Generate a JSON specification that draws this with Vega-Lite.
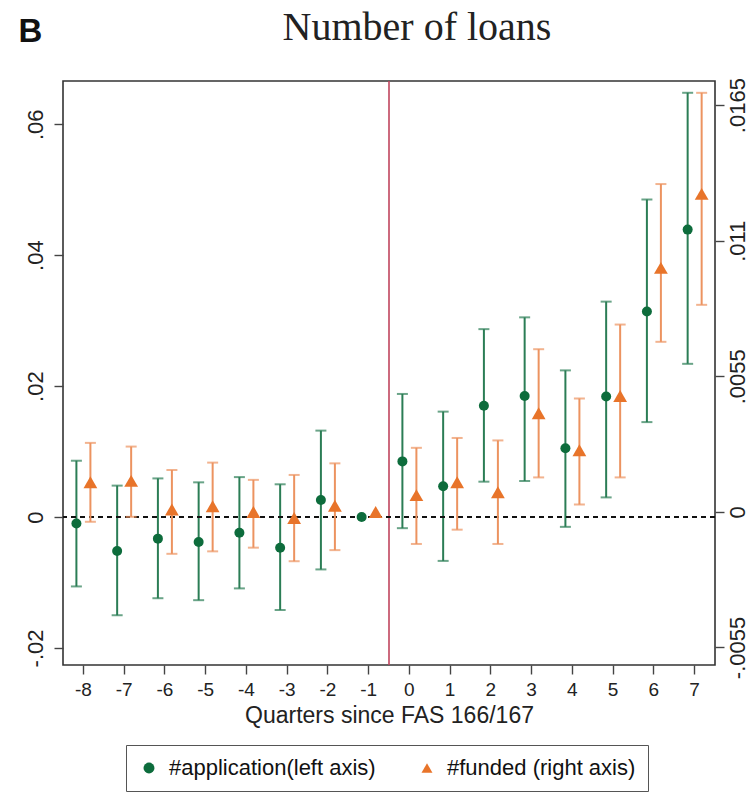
{
  "$schema": "https://vega.github.io/schema/vega-lite/v6.json",
  "width": 652,
  "height": 584,
  "autosize": {"type": "none"},
  "padding": {"left": 63, "top": 81, "right": 39, "bottom": 133},
  "background": "white",
  "config": {
    "font": "Liberation Sans",
    "view": {"stroke": "#333333", "strokeWidth": 1.6},
    "axis": {"grid": false, "domain": false, "tickColor": "#444444", "tickWidth": 1.4, "tickSize": 9, "labelColor": "#222222", "labelFontSize": 22, "labelFont": "Liberation Sans"}
  },
  "title": {
    "text": "Number of loans",
    "font": "Liberation Serif",
    "fontSize": 40,
    "fontWeight": "normal",
    "color": "#222222",
    "anchor": "middle",
    "frame": "group",
    "baseline": "alphabetic",
    "dx": 28,
    "offset": -65
  },
  "datasets": {
    "app": [
      {"quarter": -8, "series": "#application(left axis)", "est": -0.0010, "lo": -0.0106, "hi": 0.0086},
      {"quarter": -7, "series": "#application(left axis)", "est": -0.0052, "lo": -0.0150, "hi": 0.0048},
      {"quarter": -6, "series": "#application(left axis)", "est": -0.0033, "lo": -0.0124, "hi": 0.0059},
      {"quarter": -5, "series": "#application(left axis)", "est": -0.0038, "lo": -0.0127, "hi": 0.0053},
      {"quarter": -4, "series": "#application(left axis)", "est": -0.0024, "lo": -0.0109, "hi": 0.0061},
      {"quarter": -3, "series": "#application(left axis)", "est": -0.0047, "lo": -0.0142, "hi": 0.0050},
      {"quarter": -2, "series": "#application(left axis)", "est": 0.0026, "lo": -0.0080, "hi": 0.0132},
      {"quarter": -1, "series": "#application(left axis)", "est": 0.0},
      {"quarter": 0, "series": "#application(left axis)", "est": 0.0085, "lo": -0.0017, "hi": 0.0188},
      {"quarter": 1, "series": "#application(left axis)", "est": 0.0047, "lo": -0.0067, "hi": 0.0161},
      {"quarter": 2, "series": "#application(left axis)", "est": 0.0170, "lo": 0.0054, "hi": 0.0287},
      {"quarter": 3, "series": "#application(left axis)", "est": 0.0185, "lo": 0.0055, "hi": 0.0305},
      {"quarter": 4, "series": "#application(left axis)", "est": 0.0105, "lo": -0.0015, "hi": 0.0224},
      {"quarter": 5, "series": "#application(left axis)", "est": 0.0184, "lo": 0.0030, "hi": 0.0329},
      {"quarter": 6, "series": "#application(left axis)", "est": 0.0314, "lo": 0.0145, "hi": 0.0485},
      {"quarter": 7, "series": "#application(left axis)", "est": 0.0439, "lo": 0.0234, "hi": 0.0648}
    ],
    "funded": [
      {"quarter": -8, "series": "#funded (right axis)", "est": 0.00120, "lo": -0.00040, "hi": 0.00280},
      {"quarter": -7, "series": "#funded (right axis)", "est": 0.00126, "lo": -0.00020, "hi": 0.00265},
      {"quarter": -6, "series": "#funded (right axis)", "est": 0.00010, "lo": -0.00170, "hi": 0.00170},
      {"quarter": -5, "series": "#funded (right axis)", "est": 0.00023, "lo": -0.00160, "hi": 0.00200},
      {"quarter": -4, "series": "#funded (right axis)", "est": 0.00000, "lo": -0.00145, "hi": 0.00130},
      {"quarter": -3, "series": "#funded (right axis)", "est": -0.00025, "lo": -0.00200, "hi": 0.00150},
      {"quarter": -2, "series": "#funded (right axis)", "est": 0.00025, "lo": -0.00155, "hi": 0.00197},
      {"quarter": -1, "series": "#funded (right axis)", "est": 0.0},
      {"quarter": 0, "series": "#funded (right axis)", "est": 0.00068, "lo": -0.00130, "hi": 0.00260},
      {"quarter": 1, "series": "#funded (right axis)", "est": 0.00120, "lo": -0.00072, "hi": 0.00300},
      {"quarter": 2, "series": "#funded (right axis)", "est": 0.00080, "lo": -0.00130, "hi": 0.00290},
      {"quarter": 3, "series": "#funded (right axis)", "est": 0.00400, "lo": 0.00140, "hi": 0.00660},
      {"quarter": 4, "series": "#funded (right axis)", "est": 0.00250, "lo": 0.00030, "hi": 0.00460},
      {"quarter": 5, "series": "#funded (right axis)", "est": 0.00470, "lo": 0.00140, "hi": 0.00760},
      {"quarter": 6, "series": "#funded (right axis)", "est": 0.00990, "lo": 0.00690, "hi": 0.01330},
      {"quarter": 7, "series": "#funded (right axis)", "est": 0.01290, "lo": 0.00840, "hi": 0.01700}
    ],
    "event": [{"quarter": 0}]
  },
  "layer": [
    {
      "data": {"name": "app"},
      "layer": [
        {
          "data": {"name": "event"},
          "mark": {"type": "rule", "color": "#c0455e", "strokeWidth": 1.6},
          "encoding": {
            "x": {"field": "quarter", "type": "ordinal", "bandPosition": 0,
                  "scale": {"domain": [-8, -7, -6, -5, -4, -3, -2, -1, 0, 1, 2, 3, 4, 5, 6, 7], "paddingInner": 0, "paddingOuter": 0},
                  "axis": {"title": "Quarters since FAS 166/167", "titleFontSize": 23, "titleFontWeight": "normal", "titleColor": "#222222", "titlePadding": 5, "labelAngle": 0, "labelPadding": 6, "labelFontSize": 19, "labelExpr": "datum.value < 0 ? '-' + abs(datum.value) : '' + datum.value"}}
          }
        },
        {
          "mark": {"type": "rule", "color": "#2b7d55", "strokeWidth": 2},
          "encoding": {
            "x": {"field": "quarter", "type": "ordinal"},
            "xOffset": {"field": "series", "type": "nominal", "scale": {"type": "point", "domain": ["#application(left axis)", "#funded (right axis)"], "range": [13.4, 27.4], "padding": 0}},
            "y": {"field": "lo", "type": "quantitative",
                  "scale": {"domain": [-0.0226, 0.0666], "nice": false, "zero": false},
                  "axis": {"orient": "left", "values": [-0.02, 0, 0.02, 0.04, 0.06], "labelAngle": 270, "labelAlign": "center", "labelBaseline": "bottom", "labelPadding": 7,
                           "labelExpr": "datum.value == 0 ? '0' : (datum.value < 0 ? '-' : '') + replace(format(abs(datum.value), ''), '0.', '.')",
                           "title": "B", "titleAngle": 0, "titleFont": "Liberation Sans", "titleFontSize": 33, "titleFontWeight": "bold", "titleColor": "#111111",
                           "titleX": -45, "titleY": -40, "titleAlign": "left", "titleBaseline": "alphabetic"}},
            "y2": {"field": "hi"}
          }
        },
        {
          "mark": {"type": "tick", "orient": "horizontal", "size": 11, "thickness": 2, "color": "#2b7d55"},
          "encoding": {
            "x": {"field": "quarter", "type": "ordinal"},
            "xOffset": {"field": "series", "type": "nominal"},
            "y": {"field": "lo", "type": "quantitative"}
          }
        },
        {
          "mark": {"type": "tick", "orient": "horizontal", "size": 11, "thickness": 2, "color": "#2b7d55"},
          "encoding": {
            "x": {"field": "quarter", "type": "ordinal"},
            "xOffset": {"field": "series", "type": "nominal"},
            "y": {"field": "hi", "type": "quantitative"}
          }
        },
        {
          "mark": {"type": "rule", "color": "#111111", "strokeWidth": 2, "strokeDash": [5, 4]},
          "encoding": {"y": {"datum": 0, "type": "quantitative"}}
        },
        {
          "mark": {"type": "point", "filled": true, "opacity": 1, "size": 100},
          "encoding": {
            "x": {"field": "quarter", "type": "ordinal"},
            "xOffset": {"field": "series", "type": "nominal"},
            "y": {"field": "est", "type": "quantitative"},
            "color": {"field": "series", "type": "nominal",
                      "scale": {"domain": ["#application(left axis)", "#funded (right axis)"], "range": ["#0d6c3c", "#e8742a"]},
                      "legend": {"title": null, "orient": "none", "legendX": 63, "legendY": 664, "direction": "horizontal", "strokeColor": "#555555", "fillColor": "white", "padding": 12, "labelFontSize": 22, "labelLimit": 400, "labelColor": "#111111", "symbolSize": 120, "symbolStrokeWidth": 0, "symbolOpacity": 1, "columnPadding": 40, "labelOffset": 9}},
            "shape": {"field": "series", "type": "nominal",
                      "scale": {"domain": ["#application(left axis)", "#funded (right axis)"], "range": ["circle", "triangle-up"]},
                      "legend": {"title": null, "orient": "none", "legendX": 63, "legendY": 664, "direction": "horizontal", "strokeColor": "#555555", "fillColor": "white", "padding": 12, "labelFontSize": 22, "labelLimit": 400, "labelColor": "#111111", "symbolSize": 120, "symbolStrokeWidth": 0, "symbolOpacity": 1, "columnPadding": 40, "labelOffset": 9}}
          }
        }
      ]
    },
    {
      "data": {"name": "funded"},
      "layer": [
        {
          "mark": {"type": "rule", "color": "#ec9360", "strokeWidth": 2},
          "encoding": {
            "x": {"field": "quarter", "type": "ordinal"},
            "xOffset": {"field": "series", "type": "nominal"},
            "y": {"field": "lo", "type": "quantitative",
                  "scale": {"domain": [-0.00621, 0.01748], "nice": false, "zero": false},
                  "axis": {"orient": "right", "values": [-0.0055, 0, 0.0055, 0.011, 0.0165], "labelAngle": 270, "labelAlign": "center", "labelBaseline": "top", "labelPadding": 3,
                           "labelExpr": "datum.value == 0 ? '0' : (datum.value < 0 ? '-' : '') + replace(format(abs(datum.value), ''), '0.', '.')",
                           "title": null}},
            "y2": {"field": "hi"}
          }
        },
        {
          "mark": {"type": "tick", "orient": "horizontal", "size": 11, "thickness": 2, "color": "#ec9360"},
          "encoding": {
            "x": {"field": "quarter", "type": "ordinal"},
            "xOffset": {"field": "series", "type": "nominal"},
            "y": {"field": "lo", "type": "quantitative"}
          }
        },
        {
          "mark": {"type": "tick", "orient": "horizontal", "size": 11, "thickness": 2, "color": "#ec9360"},
          "encoding": {
            "x": {"field": "quarter", "type": "ordinal"},
            "xOffset": {"field": "series", "type": "nominal"},
            "y": {"field": "hi", "type": "quantitative"}
          }
        },
        {
          "mark": {"type": "point", "filled": true, "opacity": 1, "size": 190},
          "encoding": {
            "x": {"field": "quarter", "type": "ordinal"},
            "xOffset": {"field": "series", "type": "nominal"},
            "y": {"field": "est", "type": "quantitative"},
            "color": {"field": "series", "type": "nominal"},
            "shape": {"field": "series", "type": "nominal"}
          }
        }
      ]
    }
  ],
  "resolve": {"scale": {"y": "independent"}, "axis": {"y": "independent"}}
}
